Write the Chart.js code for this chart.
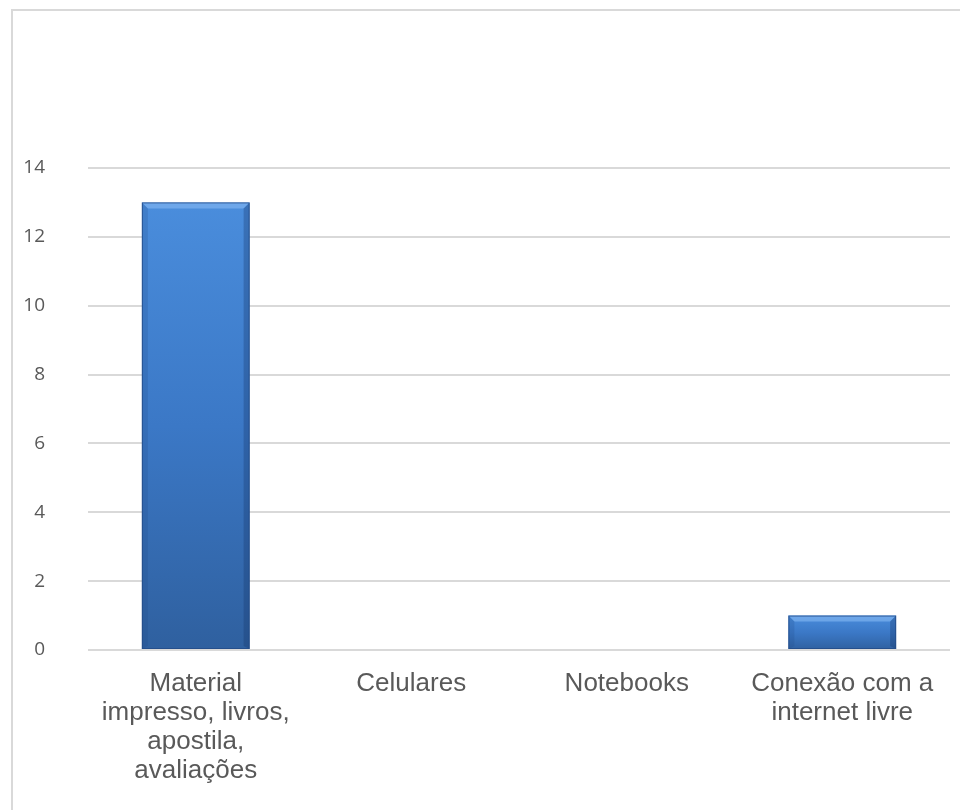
<!DOCTYPE html>
<html>
<head>
<meta charset="utf-8">
<script src="https://cdn.jsdelivr.net/npm/chart.js@4.4.1/dist/chart.umd.min.js"></script>
<style>
  html, body { margin: 0; padding: 0; background: #fff; overflow: hidden; }
  #wrap { position: relative; width: 960px; height: 810px; }
  #frame { position: absolute; left: 11px; top: 9px; width: 1000px; height: 900px;
           border: 2px solid #d9d9d9; box-sizing: border-box; }
  canvas { position: absolute; left: 0; top: 0; }
</style>
</head>
<body>
<div id="wrap">
  <div id="frame"></div>
  <canvas id="chart" width="960" height="810"></canvas>
</div>
<script>
// dados
var categorias = [
    ['Material', 'impresso, livros,', 'apostila,', 'avaliações'],
    'Celulares',
    'Notebooks',
    ['Conexão com a', 'internet livre']
];
var valores = [13, 0, 0, 1];
var ticksY = [0, 2, 4, 6, 8, 10, 12, 14];

// bisel das barras
var biselPlugin = {
    id: 'bisel',
    afterDatasetsDraw: function(chart) {
        var ctx = chart.ctx;
        chart.getDatasetMeta(0).data.forEach(function(bar, i) {
            if (!valores[i]) return;
            var l = bar.x - bar.width / 2, r = bar.x + bar.width / 2;
            var t = bar.y, b = bar.base, s = 6;
            ctx.save();
            // topo claro
            ctx.fillStyle = 'rgba(140,190,245,0.55)';
            ctx.beginPath();
            ctx.moveTo(l, t); ctx.lineTo(r, t); ctx.lineTo(r - s, t + s); ctx.lineTo(l + s, t + s);
            ctx.closePath(); ctx.fill();
            // laterais
            ctx.fillStyle = 'rgba(30,70,130,0.2)';
            ctx.beginPath();
            ctx.moveTo(l, t); ctx.lineTo(l + s, t + s); ctx.lineTo(l + s, b - 3); ctx.lineTo(l, b);
            ctx.closePath(); ctx.fill();
            ctx.fillStyle = 'rgba(20,50,100,0.3)';
            ctx.beginPath();
            ctx.moveTo(r, t); ctx.lineTo(r - s, t + s); ctx.lineTo(r - s, b - 3); ctx.lineTo(r, b);
            ctx.closePath(); ctx.fill();
            // contorno
            ctx.strokeStyle = 'rgba(35,75,135,0.8)';
            ctx.lineWidth = 1;
            ctx.strokeRect(l + 0.5, t + 0.5, r - l - 1, b - t - 1);
            ctx.restore();
        });
    }
};

var ctx = document.getElementById('chart').getContext('2d');
var chart = new Chart(ctx, {
    type: 'bar',
    data: {
        labels: categorias,
        datasets: [{
            data: valores,
            backgroundColor: function(c) {
                var y = c.chart.scales.y;
                if (!c.chart.chartArea || !y || c.raw === undefined) return '#3f7fcf';
                var top = y.getPixelForValue(c.raw), base = y.getPixelForValue(0);
                if (!isFinite(top) || !isFinite(base) || top === base) return '#3f7fcf';
                var g = c.chart.ctx.createLinearGradient(0, top, 0, base);
                g.addColorStop(0, '#4a8ddc');
                g.addColorStop(0.5, '#3b78c6');
                g.addColorStop(1, '#2f609f');
                return g;
            },
            borderWidth: 0,
            barPercentage: 0.5,
            categoryPercentage: 1.0
        }]
    },
    options: {
        responsive: false,
        animation: false,
        layout: { padding: { top: 168, right: 10, left: 0, bottom: 0 } },
        plugins: { legend: { display: false }, tooltip: { enabled: false } },
        scales: {
            x: {
                grid: { display: false },
                border: { display: false },
                ticks: {
                    color: '#595959',
                    font: { family: 'Liberation Sans, Arial', size: 26, lineHeight: 1.12 },
                    padding: 11,
                    maxRotation: 0,
                    autoSkip: false
                },
                afterFit: function(s) { s.height = 160; }
            },
            y: {
                min: 0, max: 14,
                afterBuildTicks: function(s) {
                    s.ticks = ticksY.map(function(v) { return { value: v }; });
                },
                grid: { color: '#d9d9d9', lineWidth: 2, drawTicks: false },
                border: { display: false },
                ticks: {
                    color: '#595959',
                    font: { family: 'Open Sans', size: 19 },
                    padding: 43
                },
                afterFit: function(s) { s.width = 88; }
            }
        }
    },
    plugins: [biselPlugin]
});
</script>
</body>
</html>
